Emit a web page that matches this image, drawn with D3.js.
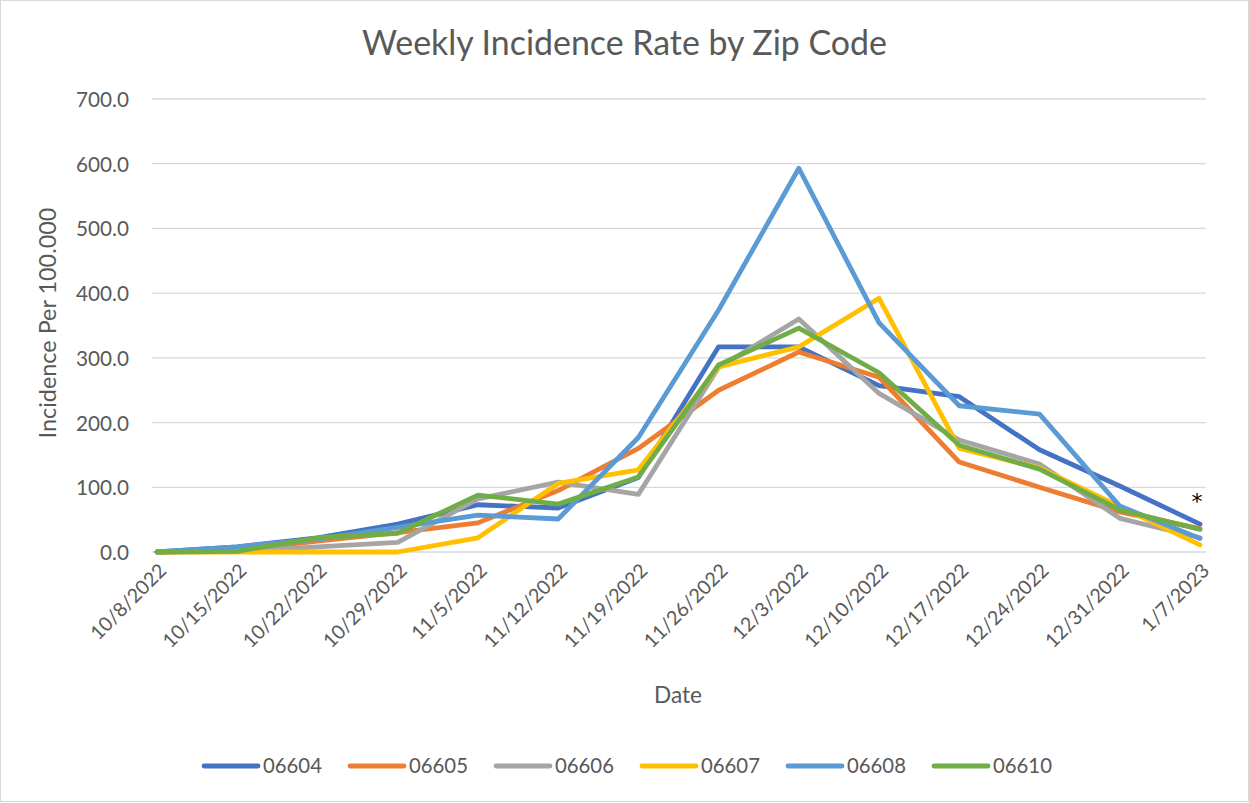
<!DOCTYPE html>
<html><head><meta charset="utf-8">
<script src="https://cdn.jsdelivr.net/npm/d3@7"></script>
<style>
html,body{margin:0;padding:0;background:#fff;}
svg{display:block;}
text{font-family:Lato,"Open Sans",sans-serif;fill:#595959;}
</style></head>
<body>
<svg id="chart" width="1249" height="803"></svg>
<script>
const dates = ["10/8/2022","10/15/2022","10/22/2022","10/29/2022","11/5/2022","11/12/2022","11/19/2022","11/26/2022","12/3/2022","12/10/2022","12/17/2022","12/24/2022","12/31/2022","1/7/2023"];
const zips = ["06604","06605","06606","06607","06608","06610"];
const z06604 = [0, 8, 22, 43, 73, 68, 115, 317, 317, 257, 240, 158, 102, 43];
const z06605 = [0, 2, 17, 30, 45, 95, 160, 250, 309, 270, 139, 100, 62, 36];
const z06606 = [0, 1, 8, 15, 82, 108, 89, 285, 360, 245, 173, 136, 52, 22];
const z06607 = [0, 0, 0, 0, 22, 106, 127, 286, 317, 392, 160, 130, 70, 11];
const z06608 = [0, 8, 20, 38, 57, 51, 177, 374, 593, 354, 226, 213, 71, 21];
const z06610 = [0, 1, 22, 29, 88, 74, 116, 289, 346, 277, 165, 128, 65, 35];
const yTicks = [0,100,200,300,400,500,600,700];
const colors = ["#4472C4","#ED7D31","#A5A5A5","#FFC000","#5B9BD5","#70AD47"];
const seriesVals = [z06604,z06605,z06606,z06607,z06608,z06610];

const svg = d3.select("#chart");
svg.append("rect").attr("x",0.5).attr("y",0.5).attr("width",1248).attr("height",801)
  .attr("fill","#fff").attr("stroke","#D9D9D9").attr("stroke-width",1);

// size a text so its length matches a target width
function fitSize(sel, target, base){
  const n = sel.node();
  n.setAttribute("font-size", base);
  const w = n.getComputedTextLength();
  return base * target / w;
}

const x = d3.scalePoint().domain(dates).range([157,1200]);
const y = d3.scaleLinear().domain([0,700]).range([552,99]);

// gridlines
svg.append("g").selectAll("line").data(yTicks).join("line")
  .attr("x1",152).attr("x2",1206)
  .attr("y1",d=>y(d)).attr("y2",d=>y(d))
  .attr("stroke","#D9D9D9").attr("stroke-width",1.3);

// y axis
const yAxis = d3.axisLeft(y).tickValues(yTicks).tickFormat(d3.format(".1f")).tickSize(0).tickPadding(0);
const yg = svg.append("g").attr("transform","translate(129,0)").call(yAxis);
yg.select(".domain").remove();
const yt = yg.selectAll("text");
const ys = fitSize(yg.selectAll("text").filter(d=>d===700), 53, 20);
yt.attr("font-size",ys).attr("fill","#595959").attr("dy","0.36em");

// x axis
const xAxis = d3.axisBottom(x).tickSize(0).tickPadding(0);
const xg = svg.append("g").attr("transform","translate(0,552)").call(xAxis);
xg.select(".domain").remove();
const xt = xg.selectAll("text");
const xs = fitSize(xg.selectAll("text").filter(d=>d==="10/15/2022"), 109, 20);
xt.attr("font-size",xs).attr("fill","#595959")
  .attr("text-anchor","end").attr("dy",null).attr("y",0)
  .attr("transform","translate(10,20) rotate(-45)");

// lines
const line = d3.line().x((d,i)=>x(dates[i])).y(d=>y(d));
seriesVals.forEach((vals,k)=>{
  svg.append("path").datum(vals).attr("d",line)
    .attr("fill","none").attr("stroke",colors[k]).attr("stroke-width",4.8)
    .attr("stroke-linejoin","round").attr("stroke-linecap","round");
});

// asterisk
svg.append("text").attr("x",x("1/7/2023")-3).attr("y",y(40)-17).attr("font-size",22)
  .attr("text-anchor","middle").style("font-family","'DejaVu Sans',sans-serif").style("fill","#000").text("*");

// titles
const title = svg.append("text").attr("x",624.5).attr("y",55).attr("text-anchor","middle")
  .text("Weekly Incidence Rate by Zip Code");
title.attr("font-size", fitSize(title, 525, 28));
const xTitle = svg.append("text").attr("x",678).attr("y",703).attr("text-anchor","middle").text("Date");
xTitle.attr("font-size", fitSize(xTitle, 48, 20));
const yTitle = svg.append("text").attr("transform","translate(56,323) rotate(-90)").attr("text-anchor","middle")
  .text("Incidence Per 100.000");
yTitle.attr("font-size", fitSize(yTitle, 231, 20));

// legend
const lg = svg.append("g").selectAll("g").data(zips).join("g")
  .attr("transform",(d,i)=>`translate(${204+146*i},766)`);
lg.append("line").attr("x1",0).attr("x2",54).attr("y1",0).attr("y2",0)
  .attr("stroke",(d,i)=>colors[i]).attr("stroke-width",4.8).attr("stroke-linecap","round");
const lt = lg.append("text").attr("x",59).attr("y",0).attr("dy","0.36em").text(d=>d);
const ls = fitSize(lt.filter((d,i)=>i===0), 59, 20);
lt.attr("font-size", ls);
</script>
</body></html>
